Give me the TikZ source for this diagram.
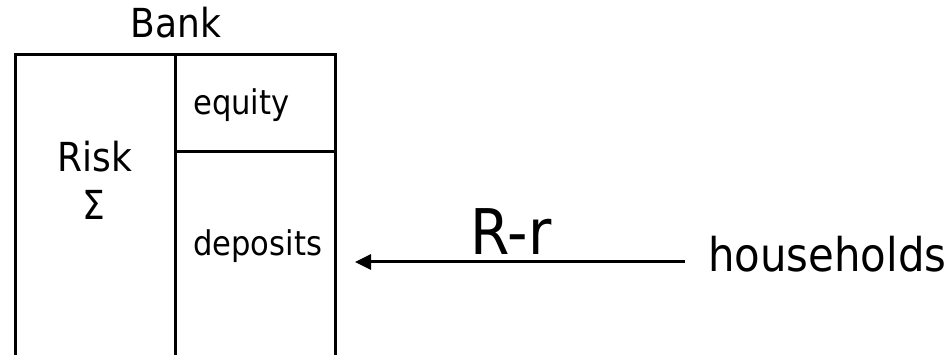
\documentclass[tikz,border=0pt]{standalone}
\usepackage{fontspec}
\setmainfont{DejaVu Sans Condensed}
\usetikzlibrary{arrows.meta,positioning}

\begin{document}
\begin{tikzpicture}[
    x=1pt, y=-1pt,
    part/.style={draw, line width=3pt, inner sep=0pt, anchor=north west},
    lbl/.style={inner sep=0pt},
    link/.style={-{Triangle[length=16pt,width=15pt]}, line width=3pt}
]
\clip (0,0) rectangle (947,355);
% balance sheet of the bank
\node[part, minimum width=160pt, minimum height=330pt] (riskbox) at (14,53) {};
\node[part, minimum width=160pt, minimum height=97pt] (equitybox) at (174,53) {};
\node[part, minimum width=160pt, minimum height=233pt] (depbox) at (174,150) {};
\node[lbl, anchor=base, font=\fontsize{40pt}{48pt}\selectfont] (bank) at (176,38) {Bank};
\node[lbl, anchor=base, font=\fontsize{40pt}{48pt}\selectfont] (risk) at (95,172) {Risk};
\node[lbl, anchor=base, font=\fontsize{40pt}{48pt}\selectfont] (sigma) at (94,220) {Σ};
\node[lbl, anchor=base west, font=\fontsize{34pt}{41pt}\selectfont] (equity) at (193,115) {equity};
\node[lbl, anchor=base west, font=\fontsize{34pt}{41pt}\selectfont] (deposits) at (193,256) {deposits};
% households lend to the bank
\node[lbl, anchor=base west, font=\fontsize{46.5pt}{56pt}\selectfont] (hh) at (708,272) {households};
\coordinate (flow) at ([yshift=10pt]hh.base west);
\draw[link] ([xshift=-23pt]flow) -- ([xshift=18pt]flow -| depbox.east)
    node[midway, above=6pt, xshift=-9pt, lbl, font=\fontsize{63pt}{76pt}\selectfont] {R-r};
\end{tikzpicture}
\end{document}
